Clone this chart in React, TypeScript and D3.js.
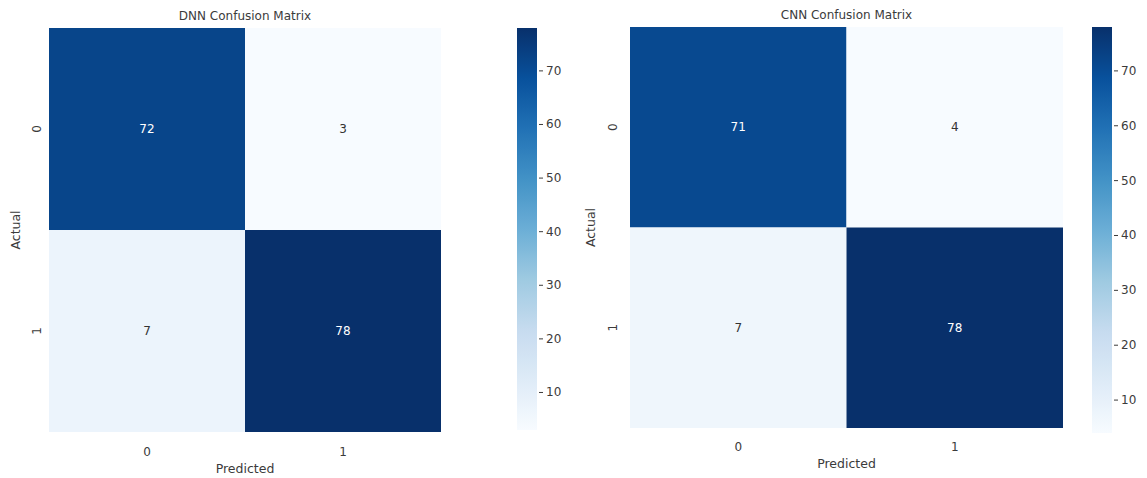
import React from "react";
import * as d3 from "d3";

// Class labels shared by both confusion matrices
const classes = ["0", "1"];

// Rows = actual class, columns = predicted class
const dnnMatrix = [
  [72, 3],
  [7, 78],
];
const cnnMatrix = [
  [71, 4],
  [7, 78],
];

const dnnTitle = "DNN Confusion Matrix";
const cnnTitle = "CNN Confusion Matrix";
const colorbarTicks = [10, 20, 30, 40, 50, 60, 70];

// matplotlib "Blues" stops (linear segmented)
const bluesStops = [
  "#f7fbff", "#deebf7", "#c6dbef", "#9ecae1", "#6baed6",
  "#4292c6", "#2171b5", "#08519c", "#08306b",
];

const FONT = "DejaVu Sans, Verdana, sans-serif";
const TEXT = "#3b3b3b";

type Layout = {
  heat: { x0: number; x1: number; y0: number; y1: number };
  cbar: { x0: number; x1: number; y0: number; y1: number };
  titleY: number;
  ylabelX: number;
  ytickX: number;
  xtickY: number;
  xlabelY: number;
};

const leftLayout: Layout = {
  heat: { x0: 49, x1: 441, y0: 28, y1: 432 },
  cbar: { x0: 517, x1: 537, y0: 28, y1: 430 },
  titleY: 16,
  ylabelX: 15,
  ytickX: 37,
  xtickY: 452,
  xlabelY: 468,
};

const rightLayout: Layout = {
  heat: { x0: 630, x1: 1063, y0: 27, y1: 428 },
  cbar: { x0: 1092, x1: 1112, y0: 27, y1: 433 },
  titleY: 15,
  ylabelX: 590,
  ytickX: 613,
  xtickY: 447,
  xlabelY: 463,
};

function makeColor(vmin: number, vmax: number) {
  const t = d3
    .scaleLinear<string>()
    .domain(bluesStops.map((_, i) => i / (bluesStops.length - 1)))
    .range(bluesStops)
    .interpolate(d3.interpolateRgb)
    .clamp(true);
  return (v: number) => t((v - vmin) / (vmax - vmin));
}

function Heatmap({
  id,
  title,
  matrix,
  layout,
}: {
  id: string;
  title: string;
  matrix: number[][];
  layout: Layout;
}) {
  const flat = matrix.flat();
  const vmin = d3.min(flat) as number;
  const vmax = d3.max(flat) as number;
  const color = makeColor(vmin, vmax);

  const x = d3
    .scaleBand<string>()
    .domain(classes)
    .range([layout.heat.x0, layout.heat.x1])
    .padding(0);
  const y = d3
    .scaleBand<string>()
    .domain(classes)
    .range([layout.heat.y0, layout.heat.y1])
    .padding(0);

  const cb = d3
    .scaleLinear()
    .domain([vmin, vmax])
    .range([layout.cbar.y1, layout.cbar.y0]);

  const midX = (layout.heat.x0 + layout.heat.x1) / 2;
  const midY = (layout.heat.y0 + layout.heat.y1) / 2;
  const gradId = `cbar-${id}`;
  const nStops = 40;

  return (
    <g>
      <defs>
        <linearGradient id={gradId} x1="0" y1="1" x2="0" y2="0">
          {d3.range(nStops + 1).map((i) => (
            <stop
              key={i}
              offset={`${(i / nStops) * 100}%`}
              stopColor={color(vmin + ((vmax - vmin) * i) / nStops)}
            />
          ))}
        </linearGradient>
      </defs>

      <text
        x={midX}
        y={layout.titleY}
        textAnchor="middle"
        dominantBaseline="central"
        fontFamily={FONT}
        fontSize={12}
        fill={TEXT}
      >
        {title}
      </text>

      {matrix.map((row, i) =>
        row.map((v, j) => {
          const cx = (x(classes[j]) as number) + x.bandwidth() / 2;
          const cy = (y(classes[i]) as number) + y.bandwidth() / 2;
          const dark = (v - vmin) / (vmax - vmin) > 0.5;
          return (
            <g key={`${i}-${j}`}>
              <rect
                x={x(classes[j])}
                y={y(classes[i])}
                width={x.bandwidth()}
                height={y.bandwidth()}
                fill={color(v)}
              />
              <text
                x={cx}
                y={cy}
                textAnchor="middle"
                dominantBaseline="central"
                fontFamily={FONT}
                fontSize={12}
                fill={dark ? "#ffffff" : "#333333"}
              >
                {v}
              </text>
            </g>
          );
        })
      )}

      {classes.map((c) => (
        <text
          key={`xt-${c}`}
          x={(x(c) as number) + x.bandwidth() / 2}
          y={layout.xtickY}
          textAnchor="middle"
          dominantBaseline="central"
          fontFamily={FONT}
          fontSize={12}
          fill={TEXT}
        >
          {c}
        </text>
      ))}
      {classes.map((c) => {
        const cy = (y(c) as number) + y.bandwidth() / 2;
        return (
          <text
            key={`yt-${c}`}
            x={layout.ytickX}
            y={cy}
            textAnchor="middle"
            dominantBaseline="central"
            fontFamily={FONT}
            fontSize={12}
            fill={TEXT}
            transform={`rotate(-90 ${layout.ytickX} ${cy})`}
          >
            {c}
          </text>
        );
      })}

      <text
        x={midX}
        y={layout.xlabelY}
        textAnchor="middle"
        dominantBaseline="central"
        fontFamily={FONT}
        fontSize={12.5}
        fill={TEXT}
      >
        Predicted
      </text>
      <text
        x={layout.ylabelX}
        y={midY}
        textAnchor="middle"
        dominantBaseline="central"
        fontFamily={FONT}
        fontSize={12.5}
        fill={TEXT}
        transform={`rotate(-90 ${layout.ylabelX} ${midY})`}
      >
        Actual
      </text>

      <rect
        x={layout.cbar.x0}
        y={layout.cbar.y0}
        width={layout.cbar.x1 - layout.cbar.x0}
        height={layout.cbar.y1 - layout.cbar.y0}
        fill={`url(#${gradId})`}
      />
      {colorbarTicks.map((t) => (
        <g key={`cb-${t}`}>
          <line
            x1={layout.cbar.x1 + 2}
            x2={layout.cbar.x1 + 6}
            y1={cb(t)}
            y2={cb(t)}
            stroke={TEXT}
            strokeWidth={1}
          />
          <text
            x={layout.cbar.x1 + 9}
            y={cb(t)}
            dominantBaseline="central"
            fontFamily={FONT}
            fontSize={12}
            fill={TEXT}
          >
            {t}
          </text>
        </g>
      ))}
    </g>
  );
}

export default function App() {
  return (
    <svg
      width={1147}
      height={478}
      style={{ position: "absolute", left: 0, top: 0, background: "#ffffff" }}
    >
      <rect width={1147} height={478} fill="#ffffff" />
      <Heatmap id="dnn" title={dnnTitle} matrix={dnnMatrix} layout={leftLayout} />
      <Heatmap id="cnn" title={cnnTitle} matrix={cnnMatrix} layout={rightLayout} />
    </svg>
  );
}
